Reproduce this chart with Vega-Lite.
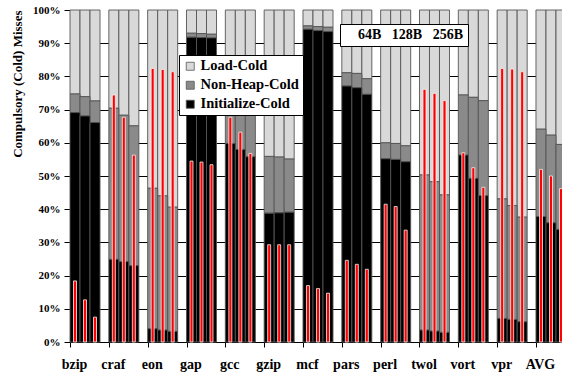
{
  "$schema": "https://vega.github.io/schema/vega-lite/v6.json",
  "width": 492,
  "height": 332,
  "autosize": {"type": "none"},
  "padding": {"left": 70, "top": 10, "right": 0, "bottom": 33},
  "background": "white",
  "config": {
    "view": {"stroke": null},
    "font": "Liberation Serif"
  },
  "data": {"values": [
    {"b":"bzip","s":"64B","init":69.1,"top":74.7,"red":18.4},
    {"b":"bzip","s":"128B","init":68.1,"top":73.9,"red":12.7},
    {"b":"bzip","s":"256B","init":66.1,"top":72.6,"red":7.5},
    {"b":"craf","s":"64B","init":24.9,"top":70.4,"red":74.4},
    {"b":"craf","s":"128B","init":24.2,"top":68.3,"red":67.7},
    {"b":"craf","s":"256B","init":23.0,"top":65.1,"red":56.3},
    {"b":"eon","s":"64B","init":4.0,"top":46.3,"red":82.4},
    {"b":"eon","s":"128B","init":3.6,"top":44.0,"red":82.1},
    {"b":"eon","s":"256B","init":3.2,"top":40.6,"red":81.4},
    {"b":"gap","s":"64B","init":91.8,"top":93.0,"red":54.5},
    {"b":"gap","s":"128B","init":91.7,"top":92.9,"red":54.2},
    {"b":"gap","s":"256B","init":91.6,"top":92.7,"red":53.4},
    {"b":"gcc","s":"64B","init":59.8,"top":72.5,"red":67.7},
    {"b":"gcc","s":"128B","init":58.0,"top":71.5,"red":63.2},
    {"b":"gcc","s":"256B","init":55.8,"top":70.5,"red":56.8},
    {"b":"gzip","s":"64B","init":38.8,"top":55.9,"red":29.3},
    {"b":"gzip","s":"128B","init":38.9,"top":55.7,"red":29.3},
    {"b":"gzip","s":"256B","init":39.1,"top":55.1,"red":29.3},
    {"b":"mcf","s":"64B","init":94.2,"top":95.2,"red":17.0},
    {"b":"mcf","s":"128B","init":93.8,"top":95.0,"red":16.1},
    {"b":"mcf","s":"256B","init":93.5,"top":94.8,"red":14.7},
    {"b":"pars","s":"64B","init":77.1,"top":81.1,"red":24.6},
    {"b":"pars","s":"128B","init":76.6,"top":80.9,"red":23.4},
    {"b":"pars","s":"256B","init":74.6,"top":79.3,"red":21.9},
    {"b":"perl","s":"64B","init":55.2,"top":60.0,"red":41.5},
    {"b":"perl","s":"128B","init":55.0,"top":59.8,"red":40.8},
    {"b":"perl","s":"256B","init":54.3,"top":59.1,"red":33.7},
    {"b":"twol","s":"64B","init":3.6,"top":50.3,"red":76.1},
    {"b":"twol","s":"128B","init":3.3,"top":48.3,"red":74.9},
    {"b":"twol","s":"256B","init":2.9,"top":44.3,"red":72.7},
    {"b":"vort","s":"64B","init":56.3,"top":74.4,"red":57.0},
    {"b":"vort","s":"128B","init":49.3,"top":73.7,"red":52.5},
    {"b":"vort","s":"256B","init":44.1,"top":72.7,"red":46.6},
    {"b":"vpr","s":"64B","init":7.1,"top":43.1,"red":82.4},
    {"b":"vpr","s":"128B","init":6.8,"top":41.1,"red":82.2},
    {"b":"vpr","s":"256B","init":6.1,"top":37.6,"red":81.4},
    {"b":"AVG","s":"64B","init":37.8,"top":64.1,"red":52.0},
    {"b":"AVG","s":"128B","init":35.9,"top":62.3,"red":50.0},
    {"b":"AVG","s":"256B","init":33.9,"top":59.5,"red":46.2}
  ]},
  "encoding": {
    "x": {
      "field": "b", "type": "nominal", "sort": null,
      "scale": {"range": [0, 496], "paddingInner": 0.227, "paddingOuter": 0},
      "axis": {
        "title": null, "tickOffset": -15, "labelOffset": 4, "labelAngle": 0,
        "labelFont": "Liberation Serif", "labelFontSize": 14, "labelFontWeight": "bold", "labelColor": "black",
        "tickColor": "black", "tickSize": 5, "domainColor": "black", "domainWidth": 1, "labelPadding": 10, "grid": false
      }
    },
    "xOffset": {"field": "s", "type": "nominal", "sort": ["64B", "128B", "256B"], "scale": {"paddingInner": 0, "paddingOuter": 0}},
    "y": {
      "type": "quantitative",
      "scale": {"domain": [0, 100], "nice": false},
      "axis": {
        "values": [0, 10, 20, 30, 40, 50, 60, 70, 80, 90, 100],
        "labelExpr": "datum.value + '%'",
        "title": "Compulsory (Cold) Misses",
        "titleFont": "Liberation Serif", "titleFontSize": 13, "titleFontWeight": "bold", "titleColor": "black",
        "titleAnchor": "end", "titlePadding": 8,
        "labelFont": "Liberation Serif", "labelFontSize": 11, "labelFontWeight": "bold", "labelColor": "black",
        "labelPadding": 4, "tickColor": "black", "tickSize": 6, "domainColor": "black", "labelOverlap": false,
        "grid": true, "gridColor": "#000000", "gridWidth": 1,
        "gridOpacity": {"condition": {"test": "datum.value >= 100", "value": 0}, "value": 1}
      }
    }
  },
  "layer": [
    {
      "mark": {"type": "bar", "stroke": "#555555", "strokeWidth": 0.9},
      "encoding": {
        "y": {"field": "top", "type": "quantitative", "title": "Compulsory (Cold) Misses"},
        "y2": {"datum": 100},
        "color": {
          "datum": "Load-Cold",
          "scale": {"domain": ["Load-Cold", "Non-Heap-Cold", "Initialize-Cold"], "range": ["#d9d9d9", "#8a8a8a", "#000000"]},
          "legend": {
            "orient": "none", "legendX": 109, "legendY": 45, "title": null,
            "fillColor": "white", "strokeColor": "black", "padding": 4,
            "symbolType": "square", "symbolSize": 64, "symbolStrokeColor": "#333333", "symbolStrokeWidth": 0.8,
            "labelFont": "Liberation Serif", "labelFontSize": 14.5, "labelFontWeight": "bold", "labelColor": "black",
            "labelOffset": 3, "rowPadding": 4, "labelLimit": 300
          }
        }
      }
    },
    {
      "mark": {"type": "bar", "stroke": "#555555", "strokeWidth": 0.9},
      "encoding": {
        "y": {"field": "init", "type": "quantitative", "title": "Compulsory (Cold) Misses"},
        "y2": {"field": "top"},
        "color": {"datum": "Non-Heap-Cold"}
      }
    },
    {
      "mark": {"type": "bar", "stroke": "#555555", "strokeWidth": 0.9},
      "encoding": {
        "y": {"field": "init", "type": "quantitative", "title": "Compulsory (Cold) Misses"},
        "y2": {"datum": 0},
        "color": {"datum": "Initialize-Cold"}
      }
    },
    {
      "mark": {"type": "bar", "width": 3, "color": "#ff0000", "stroke": "#f2f2f2", "strokeWidth": 0.8},
      "encoding": {
        "y": {"field": "red", "type": "quantitative", "title": "Compulsory (Cold) Misses"},
        "opacity": {
          "field": "s", "type": "ordinal", "sort": ["64B", "128B", "256B"],
          "scale": {"range": [1, 1]},
          "legend": {
            "orient": "none", "legendX": 270, "legendY": 14, "direction": "horizontal", "title": null,
            "values": ["64B"],
            "fillColor": "white", "strokeColor": "black", "padding": 4,
            "symbolSize": 0.01, "symbolOpacity": 0, "symbolStrokeWidth": 0, "labelOffset": 0,
            "labelFont": "Liberation Serif", "labelFontSize": 14, "labelFontWeight": "bold", "labelColor": "black", "labelLimit": 400,
            "labelExpr": "'\u00a0\u00a064B\u00a0\u00a0\u00a0128B\u00a0\u00a0\u00a0256B\u00a0\u00a0\u00a0\u00a0\u00a0'"
          }
        }
      }
    }
  ]
}
